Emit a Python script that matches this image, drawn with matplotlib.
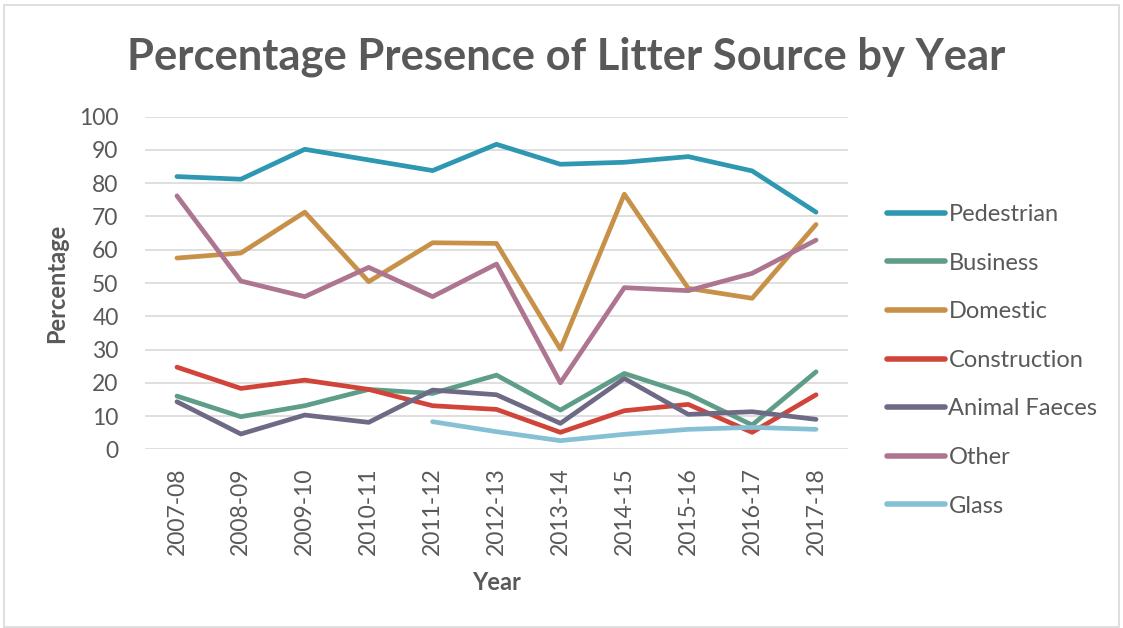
import matplotlib
matplotlib.use("Agg")
import matplotlib.pyplot as plt
from matplotlib.patches import Rectangle
import numpy as np

years = ["2007-08", "2008-09", "2009-10", "2010-11", "2011-12", "2012-13",
         "2013-14", "2014-15", "2015-16", "2016-17", "2017-18"]
pedestrian = [82.0, 81.2, 90.2, 87.0, 83.8, 91.7, 85.7, 86.3, 88.0, 83.7, 71.3]
business = [16.0, 9.8, 13.1, 18.0, 16.8, 22.3, 11.8, 22.8, 16.6, 7.3, 23.3]
domestic = [57.5, 59.0, 71.3, 50.4, 62.1, 61.9, 30.1, 76.7, 48.4, 45.4, 67.6]
construction = [24.7, 18.3, 20.8, 18.0, 13.1, 12.0, 5.1, 11.6, 13.5, 5.1, 16.4]
animal_faeces = [14.3, 4.6, 10.3, 8.1, 17.8, 16.4, 7.8, 21.3, 10.5, 11.3, 9.0]
other = [76.2, 50.6, 45.9, 54.7, 45.9, 55.7, 20.0, 48.6, 47.7, 52.9, 62.9]
glass = [None, None, None, None, 8.3, 5.3, 2.6, 4.5, 6.0, 6.6, 6.0]

series_names = ["Pedestrian", "Business", "Domestic", "Construction",
                "Animal Faeces", "Other", "Glass"]
colors = ["#2E97B1", "#5E9E88", "#C8914A", "#D0443A", "#6E6A86", "#AE7590", "#86C0D4"]

plt.rcParams['font.family'] = ['Lato', 'DejaVu Sans']
text_color = "#595959"

fig = plt.figure(figsize=(11.23, 6.28), dpi=100)
ax = fig.add_axes([145/1123, 1 - 449.3/628, (848-145)/1123, (449.3-116.7)/628])

x = np.arange(len(years))
all_series = [pedestrian, business, domestic, construction, animal_faeces, other, glass]
for name, vals, c in zip(series_names, all_series, colors):
    y = np.array([np.nan if v is None else v for v in vals], dtype=float)
    ax.plot(x, y, color=c, lw=3.4, label=name, solid_capstyle='round', solid_joinstyle='round')

ax.set_xlim(-0.5, len(years) - 0.5)
ax.set_ylim(0, 100)
ax.set_yticks(range(0, 101, 10))
ax.set_xticks(x)
ax.set_xticklabels(years, rotation=90)
ax.tick_params(axis='both', length=0, labelsize=16.5, labelcolor=text_color)
ax.tick_params(axis='y', pad=19)
ax.tick_params(axis='x', pad=13)
ax.grid(axis='y', color="#D9D9D9", lw=1.2)
ax.set_axisbelow(True)
for s in ax.spines.values():
    s.set_visible(False)

ax.set_xlabel("Year", fontsize=17, fontweight='bold', color=text_color, labelpad=11)
ax.set_ylabel("Percentage", fontsize=17, fontweight='bold', color=text_color, labelpad=8)

fig.text(566/1123, 1 - 57/628, "Percentage Presence of Litter Source by Year",
         ha='center', va='center', fontsize=31.3, fontweight='bold', color=text_color)

leg = ax.legend(loc='upper left', bbox_to_anchor=(887/1123, 1 - 204/628),
                bbox_transform=fig.transFigure, frameon=False, fontsize=17,
                handlelength=2.45, handletextpad=0.15, labelspacing=1.17,
                borderaxespad=0, borderpad=0)
for t in leg.get_texts():
    t.set_color(text_color)
for h in leg.get_lines():
    h.set_linewidth(4)

fig.patches.append(Rectangle((4/1123, 0.002), 1 - 8/1123, 1 - 5/628 - 0.002,
                             transform=fig.transFigure, fill=False,
                             edgecolor="#D9D9D9", lw=1.2))

fig.savefig("out.png", dpi=100)
